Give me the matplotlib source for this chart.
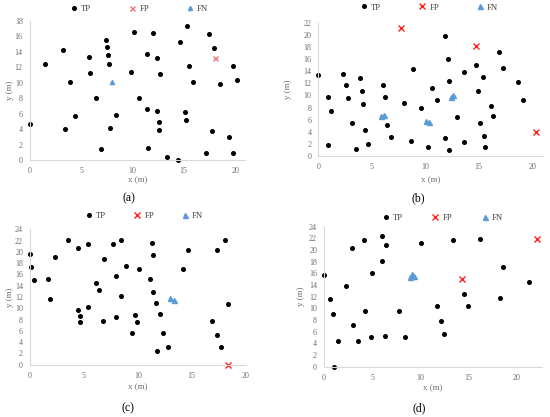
import matplotlib
matplotlib.use('Agg')
import matplotlib.pyplot as plt

# panel (a)
a_tp_x = [0, 1.5, 3.25, 3.95, 3.45, 4.45, 5.75, 5.85, 6.45, 6.9, 7.45, 7.5, 7.6, 7.7, 7.8, 8.45,
          10.15, 9.85, 10.6, 12.0, 15.35, 17.45, 14.6, 17.9, 11.45, 12.35, 15.5, 19.75, 12.7, 15.9,
          18.5, 20.2, 11.4, 12.4, 15.1, 12.55, 15.2, 12.6, 17.75, 19.4, 11.5, 13.4, 14.4, 17.15, 19.75]
a_tp_y = [4.7, 12.4, 14.3, 10.05, 4.0, 5.65, 13.3, 11.3, 8.0, 1.45, 15.5, 14.6, 13.55, 12.45, 4.2, 5.8,
          16.55, 11.45, 8.0, 16.5, 17.3, 16.3, 15.3, 14.45, 13.75, 13.25, 12.2, 12.2, 11.1, 10.1,
          9.85, 10.3, 6.65, 6.4, 6.25, 4.95, 5.2, 3.9, 3.8, 3.0, 1.55, 0.35, 0.05, 0.9, 0.95]
a_fp_x = [18.05]
a_fp_y = [13.2]
a_fn_x = [8.0]
a_fn_y = [10.15]

# panel (b)
b_tp_x = [0, 0.88, 1.16, 0.91, 2.28, 2.56, 2.8, 3.87, 4.11, 4.21, 3.18, 4.39, 3.5, 4.67, 6.07, 6.2,
          6.45, 6.77, 7.98, 8.7, 8.82, 11.84, 12.1, 14.77, 13.64, 16.9, 17.27, 15.4, 12.18, 10.67,
          11.05, 9.63, 14.97, 18.63, 19.12, 16.1, 16.33, 12.98, 15.1, 15.45, 11.81, 13.64, 15.54,
          10.27, 12.21]
b_tp_y = [13.3, 9.79, 7.48, 1.77, 13.53, 11.67, 9.57, 12.92, 10.73, 8.53, 5.4, 4.37, 1.12, 1.98, 11.67, 9.79,
          5.1, 3.14, 8.75, 2.4, 14.28, 19.77, 15.93, 14.98, 13.83, 17.18, 14.58, 13.09, 12.43, 11.17,
          9.18, 7.9, 10.75, 12.16, 9.27, 8.25, 6.55, 6.44, 5.5, 3.35, 2.91, 2.23, 1.49,
          1.49, 0.94]
b_fp_x = [7.71, 14.76, 20.36]
b_fp_y = [21.07, 18.15, 3.9]
b_fn_x = [5.86, 6.11, 10.07, 10.32, 12.37, 12.62]
b_fn_y = [6.65, 6.8, 5.78, 5.56, 9.79, 10.0]

# panel (c)
c_tp_x = [0, 0.12, 0.37, 1.7, 1.89, 2.35, 3.52, 4.45, 5.38, 4.42, 4.64, 4.6, 5.41, 6.09, 6.37, 6.83,
          7.67, 8.47, 6.8, 7.98, 8.47, 7.94, 8.87, 10.08, 9.74, 9.92, 9.46, 11.31, 11.44, 11.1,
          11.38, 11.68, 12.02, 12.36, 12.77, 11.78, 14.16, 14.65, 16.91, 17.34, 17.68, 17.34, 18.11,
          18.39]
c_tp_y = [19.6, 17.4, 15.07, 15.19, 11.7, 19.15, 22.16, 20.74, 21.45, 9.75, 8.69, 7.62, 10.28, 14.42,
          13.24, 18.79, 21.45, 22.16, 7.8, 15.66, 12.1, 8.39, 17.49, 16.9, 8.75, 7.5, 5.67, 21.63,
          19.5, 15.25, 12.88, 10.93, 9.04, 5.67, 3.07, 2.36, 16.9, 20.39, 7.74, 5.26, 3.19, 20.39,
          22.1, 10.7]
c_fp_x = [18.37]
c_fp_y = [-0.1]
c_fn_x = [12.98, 13.32]
c_fn_y = [11.82, 11.52]

# panel (d)
d_tp_x = [0, 0.62, 0.97, 1.04, 1.42, 2.28, 2.91, 2.98, 3.53, 4.19, 4.26, 4.91, 5.02, 5.99, 5.99,
          6.44, 6.3, 7.79, 8.44, 10.03, 11.7, 12.11, 12.46, 13.36, 14.57, 14.95, 16.23, 18.3, 18.62,
          21.32]
d_tp_y = [15.77, 11.54, 8.97, 0, 4.34, 13.83, 20.4, 7.14, 4.46, 21.66, 9.6, 5.14, 16.11, 22.46, 18.06,
          20.86, 5.26, 9.6, 5.14, 21.26, 10.4, 7.77, 5.6, 21.71, 12.46, 10.4, 21.89, 11.71, 17.14,
          14.57]
d_fp_x = [14.29, 22.15]
d_fp_y = [14.97, 21.89]
d_fn_x = [8.95, 9.15, 9.35]
d_fn_y = [15.3, 15.85, 15.5]

captions = ['(a)', '(b)', '(c)', '(d)']

plt.rcParams['font.family'] = ['Liberation Serif', 'DejaVu Serif']

fig = plt.figure(figsize=(5.5, 4.17), dpi=100)

# axes rectangles in pixels: left, right, top, bottom
boxes = [(29.7, 245.4, 21, 160), (318.3, 543, 22.7, 156),
         (30, 245.6, 229.3, 364.7), (324, 541.6, 226.7, 366.7)]
xmaxes = [21, 21, 20, 22.6]
ymaxes = [18, 22, 24, 24]
legend_x = [139, 429, 144, 442]
legend_y = [9, 7.5, 216, 218]
legend_gap = [4.3, 4.3, 3.1, 3.3]
cap_pos = [(129, 198), (418, 198), (128, 408), (419, 408)]
xlab_y = [180, 180, 387, 388]
ylab_x = [10, 288, 10, 301]
# panel (a) was drawn with smaller, paler FP/FN marks
fp_size = [3.6, 4.5, 4.5, 4.5]
fp_color = ['#F07070', '#FF2020', '#FF2020', '#FF2020']
fn_size = [3.0, 3.6, 3.6, 3.6]

data = [
    (a_tp_x, a_tp_y, a_fp_x, a_fp_y, a_fn_x, a_fn_y),
    (b_tp_x, b_tp_y, b_fp_x, b_fp_y, b_fn_x, b_fn_y),
    (c_tp_x, c_tp_y, c_fp_x, c_fp_y, c_fn_x, c_fn_y),
    (d_tp_x, d_tp_y, d_fp_x, d_fp_y, d_fn_x, d_fn_y),
]

W, H = 550, 417
grey = '#6E6E6E'
for i in range(4):
    l, r, t, b = boxes[i]
    ax = fig.add_axes([l / W, 1 - b / H, (r - l) / W, (b - t) / H])
    tpx, tpy, fpx, fpy, fnx, fny = data[i]
    ax.plot(tpx, tpy, 'o', color='black', markersize=2.6, label='TP', clip_on=False)
    ax.plot(fpx, fpy, 'x', color=fp_color[i], markersize=fp_size[i], markeredgewidth=1.0,
            label='FP', clip_on=False)
    ax.plot(fnx, fny, '^', color='#5B9BD5', markersize=fn_size[i], label='FN', clip_on=False)

    ax.set_xlim(0, xmaxes[i])
    ax.set_ylim(0, ymaxes[i])
    ax.set_xticks([0, 5, 10, 15, 20])
    ax.set_yticks(range(0, ymaxes[i] + 1, 2))
    ax.tick_params(length=0, labelsize=5.8, labelcolor=grey, pad=5)
    for s in ['top', 'right']:
        ax.spines[s].set_visible(False)
    for s in ['left', 'bottom']:
        ax.spines[s].set_color('#D9D9D9')
        ax.spines[s].set_linewidth(0.8)

    ax.set_xlabel('x (m)', fontsize=6.5, color=grey, va='center')
    ax.xaxis.set_label_coords(0.5, (b - xlab_y[i]) / (b - t))
    ax.set_ylabel('y (m)', fontsize=6.5, color=grey, va='center')
    ax.yaxis.set_label_coords((ylab_x[i] - l) / (r - l), 0.5)

    ax.legend(ncol=3, loc='center', frameon=False, fontsize=6.2,
              bbox_to_anchor=((legend_x[i] - l) / (r - l), (b - legend_y[i]) / (b - t)),
              handlelength=1.0, handletextpad=0.3, columnspacing=legend_gap[i],
              borderaxespad=0, labelcolor='#404040')

    fig.text(cap_pos[i][0] / W, 1 - cap_pos[i][1] / H, captions[i], fontsize=8.5,
             ha='center', va='center', color='black')

fig.savefig('out.png', dpi=100)
